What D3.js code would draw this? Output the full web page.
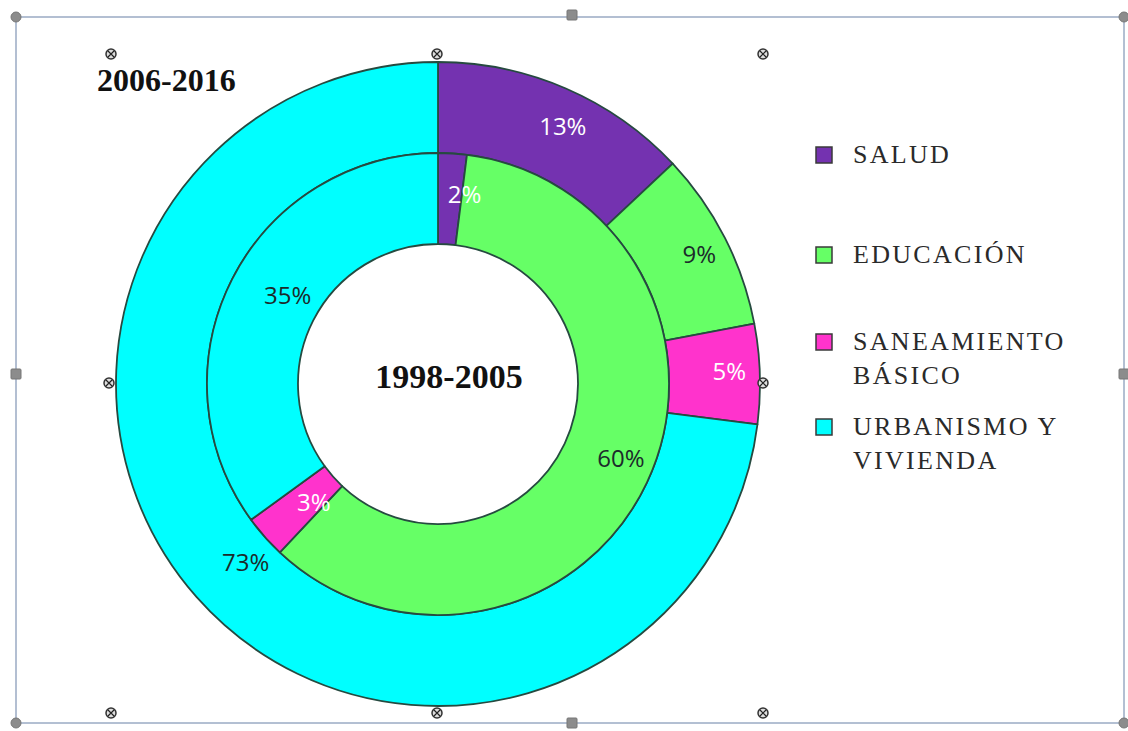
<!DOCTYPE html>
<html>
<head>
<meta charset="utf-8">
<script src="https://cdn.jsdelivr.net/npm/d3@7"></script>
<style>
  html, body { margin: 0; padding: 0; background: #fff; }
  svg { display: block; }
</style>
</head>
<body>
<svg id="chart" width="1128" height="731"></svg>
<script>
// categories and the two rings (percent)
var categories = ["SALUD", "EDUCACIÓN", "SANEAMIENTO BÁSICO", "URBANISMO Y VIVIENDA"];
var legendLines = [["SALUD"], ["EDUCACIÓN"], ["SANEAMIENTO", "BÁSICO"], ["URBANISMO Y", "VIVIENDA"]];
var outer2006 = [13, 9, 5, 73];   // 2006-2016
var inner1998 = [2, 60, 3, 35];   // 1998-2005
var colors = ["#7432b0", "#66ff66", "#ff33cc", "#00ffff"];
var outerLabelFill = ["#fff", "#1c2b2b", "#fff", "#1c2b2b"];
var innerLabelFill = ["#fff", "#1c2b2b", "#fff", "#1c2b2b"];

var svg = d3.select("#chart");
var cx = 438, cy = 384;
var rHole = 140, rMid = 231, rOuter = 322;

// selection frame (the chart was captured while selected)
svg.append("rect")
    .attr("x", 16).attr("y", 17)
    .attr("width", 1108).attr("height", 706)
    .attr("fill", "none")
    .attr("stroke", "#9aabc4")
    .attr("stroke-width", 1.5);

var pie = d3.pie().sort(null).value(d => d);
var outerArc = d3.arc().innerRadius(rMid).outerRadius(rOuter);
var innerArc = d3.arc().innerRadius(rHole).outerRadius(rMid);

var g = svg.append("g").attr("transform", `translate(${cx},${cy})`);

function ring(values, arc, labelFill, cls) {
    let arcs = pie(values);
    g.append("g").attr("class", cls).selectAll("path")
        .data(arcs)
        .enter().append("path")
        .attr("d", arc)
        .attr("fill", (d, i) => colors[i])
        .attr("stroke", "#264a40")
        .attr("stroke-width", 1.8)
        .attr("stroke-linejoin", "round");
    g.append("g").selectAll("text")
        .data(arcs)
        .enter().append("text")
        .attr("transform", d => {
            let c = arc.centroid(d);
            return `translate(${c[0] + 15},${c[1] - 5})`;
        })
        .attr("text-anchor", "middle")
        .attr("dominant-baseline", "central")
        .attr("font-family", "'Open Sans', sans-serif")
        .attr("font-size", 24)
        .attr("fill", (d, i) => labelFill[i])
        .text(d => d.data + "%");
}
ring(outer2006, outerArc, outerLabelFill, "outer");
ring(inner1998, innerArc, innerLabelFill, "inner");

// ring titles
svg.append("text")
    .attr("x", 97).attr("y", 91)
    .attr("font-family", "'Liberation Serif', 'Times New Roman', serif")
    .attr("font-weight", "bold")
    .attr("font-size", 32)
    .attr("fill", "#111")
    .text("2006-2016");
svg.append("text")
    .attr("x", 449).attr("y", 388)
    .attr("text-anchor", "middle")
    .attr("font-family", "'Liberation Serif', 'Times New Roman', serif")
    .attr("font-weight", "bold")
    .attr("font-size", 34)
    .attr("fill", "#111")
    .text("1998-2005");

// legend
var legendY = [163, 263, 350, 435];
var legend = svg.append("g").selectAll("g")
    .data(categories)
    .enter().append("g")
    .attr("transform", (d, i) => `translate(816,${legendY[i]})`);
legend.append("rect")
    .attr("x", 0).attr("y", -16)
    .attr("width", 16).attr("height", 16)
    .attr("fill", (d, i) => colors[i])
    .attr("stroke", "#3a3a3a")
    .attr("stroke-width", 1.5);
var lt = legend.append("text")
    .attr("font-family", "'Liberation Serif', 'Times New Roman', serif")
    .attr("font-size", 26)
    .attr("letter-spacing", "2.3px")
    .attr("fill", "#2a2a2a");
lt.selectAll("tspan")
    .data((d, i) => legendLines[i])
    .enter().append("tspan")
    .attr("x", 37)
    .attr("dy", (d, j) => j ? 34 : 0)
    .text(d => d);

// sizing handles of the selected chart
var handles = [[16, 17], [572, 15], [1124, 17], [16, 374], [1124, 374], [16, 723], [572, 723], [1124, 723]];
svg.append("g").selectAll("rect")
    .data(handles)
    .enter().append("rect")
    .attr("x", d => d[0] - 5).attr("y", d => d[1] - 5)
    .attr("width", 10).attr("height", 10)
    .attr("rx", (d, i) => (d[0] === 572 || d[1] === 374) ? 1 : 5)
    .attr("fill", "#8c8c8c")
    .attr("stroke", "#777");

// plot area markers
var marks = [[111, 54], [437, 54], [763, 54], [109, 383], [763, 383], [111, 713], [437, 713], [763, 713]];
var m = svg.append("g").selectAll("g")
    .data(marks)
    .enter().append("g")
    .attr("transform", d => `translate(${d[0]},${d[1]})`);
m.append("circle").attr("r", 5).attr("fill", "#ddd").attr("stroke", "#333").attr("stroke-width", 1.5);
m.append("path").attr("d", "M-3,-3L3,3M3,-3L-3,3").attr("stroke", "#222").attr("stroke-width", 1.2);
</script>
</body>
</html>
